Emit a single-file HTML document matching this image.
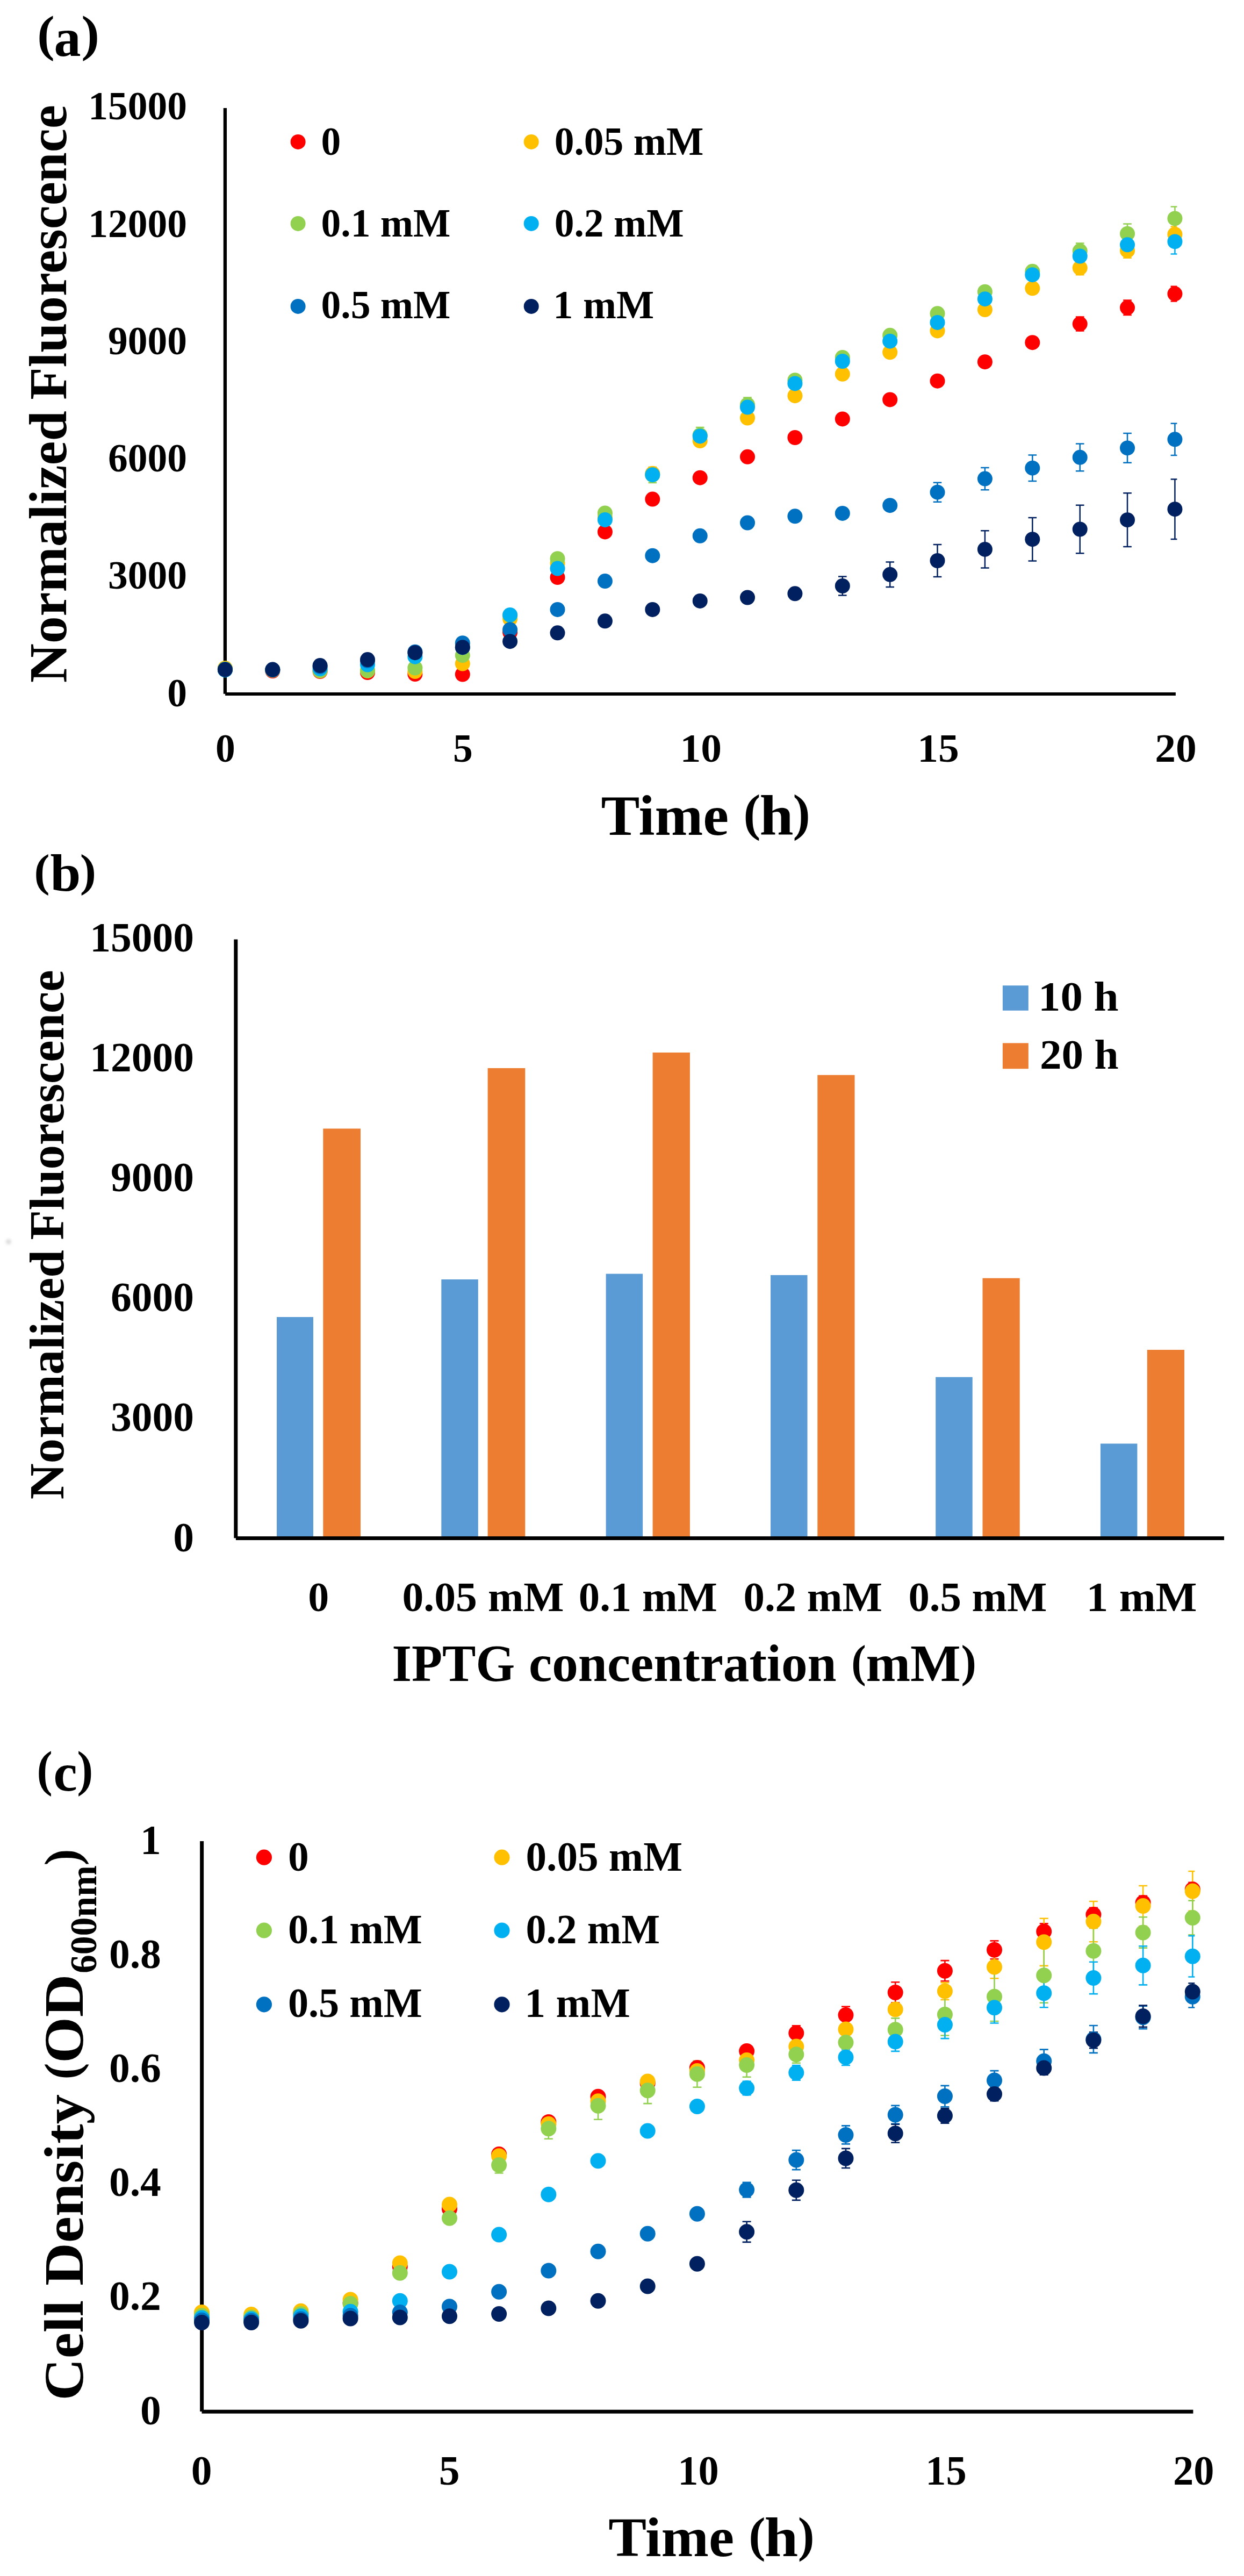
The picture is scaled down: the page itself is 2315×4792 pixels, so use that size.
<!DOCTYPE html>
<html lang="en">
<head>
<meta charset="utf-8">
<title>IPTG induction figure</title>
<style>
html,body{margin:0;padding:0;background:#fff;}
body{width:2315px;height:4792px;overflow:hidden;}
svg{display:block;}
svg text{font-family:"Liberation Serif", "DejaVu Serif", serif;font-weight:bold;fill:#000;}
</style>
</head>
<body>
<svg width="2315" height="4792" viewBox="0 0 2315 4792">
<rect width="2315" height="4792" fill="#fff"/>
<g id="panelA">
<path d="M418.9 201V1290.8" stroke="#000" stroke-width="6.3" fill="none"/><path d="M419.1 1290.9H2187.9" stroke="#000" stroke-width="6" fill="none"/>
<path d="M1832.9 666.7V679.8M1825.1 666.7h15.6M1825.1 679.8h15.6M1921.3 628.5V646.0M1913.5 628.5h15.6M1913.5 646.0h15.6M2009.7 589.5V615.6M2001.9 589.5h15.6M2001.9 615.6h15.6M2098.0 558.5V586.1M2090.2 558.5h15.6M2090.2 586.1h15.6M2186.4 532.8V560.4M2178.6 532.8h11.8M2178.6 560.4h11.8" stroke="#FF0000" stroke-width="2.5" fill="none"/>
<path d="M1921.3 527.6V545.0M1913.5 527.6h15.6M1913.5 545.0h15.6M2009.7 485.5V511.2M2001.9 485.5h15.6M2001.9 511.2h15.6M2098.0 452.6V479.7M2090.2 452.6h15.6M2090.2 479.7h15.6M2186.4 421.4V450.5M2178.6 421.4h11.8M2178.6 450.5h11.8" stroke="#FFC000" stroke-width="2.5" fill="none"/>
<path d="M1214.3 869.0V898.1M1206.5 869.0h15.6M1206.5 898.1h15.6M1302.7 794.9V824.0M1294.9 794.9h15.6M1294.9 824.0h15.6M1391.0 739.6V765.8M1383.2 739.6h15.6M1383.2 765.8h15.6M1479.4 698.5V715.9M1471.6 698.5h15.6M1471.6 715.9h15.6M1832.9 534.0V551.4M1825.1 534.0h15.6M1825.1 551.4h15.6M1921.3 493.9V515.7M1913.5 493.9h15.6M1913.5 515.7h15.6M2009.7 452.6V481.0M2001.9 452.6h15.6M2001.9 481.0h15.6M2098.0 416.6V452.7M2090.2 416.6h15.6M2090.2 452.7h15.6M2186.4 384.6V428.2M2178.6 384.6h11.8M2178.6 428.2h11.8" stroke="#92D050" stroke-width="2.5" fill="none"/>
<path d="M2009.7 465.6V487.4M2001.9 465.6h15.6M2001.9 487.4h15.6M2098.0 440.7V469.8M2090.2 440.7h15.6M2090.2 469.8h15.6M2186.4 426.3V472.6M2178.6 426.3h11.8M2178.6 472.6h11.8" stroke="#00B0F0" stroke-width="2.5" fill="none"/>
<path d="M1656.2 931.5V948.9M1648.4 931.5h15.6M1648.4 948.9h15.6M1744.5 897.7V933.8M1736.7 897.7h15.6M1736.7 933.8h15.6M1832.9 870.1V911.2M1825.1 870.1h15.6M1825.1 911.2h15.6M1921.3 846.6V894.9M1913.5 846.6h15.6M1913.5 894.9h15.6M2009.7 825.4V876.2M2001.9 825.4h15.6M2001.9 876.2h15.6M2098.0 806.1V860.8M2090.2 806.1h15.6M2090.2 860.8h15.6M2186.4 787.7V846.9M2178.6 787.7h11.8M2178.6 846.9h11.8" stroke="#0070C0" stroke-width="2.5" fill="none"/>
<path d="M1479.4 1097.1V1111.6M1471.6 1097.1h15.6M1471.6 1111.6h15.6M1567.8 1072.6V1107.5M1560.0 1072.6h15.6M1560.0 1107.5h15.6M1656.2 1045.6V1091.9M1648.4 1045.6h15.6M1648.4 1091.9h15.6M1744.5 1013.1V1072.9M1736.7 1013.1h15.6M1736.7 1072.9h15.6M1832.9 987.2V1056.6M1825.1 987.2h15.6M1825.1 1056.6h15.6M1921.3 962.9V1043.4M1913.5 962.9h15.6M1913.5 1043.4h15.6M2009.7 939.8V1029.3M2001.9 939.8h15.6M2001.9 1029.3h15.6M2098.0 917.3V1017.0M2090.2 917.3h15.6M2090.2 1017.0h15.6M2186.4 891.6V1002.9M2178.6 891.6h11.8M2178.6 1002.9h11.8" stroke="#002060" stroke-width="2.5" fill="none"/>
<g fill="#FF0000"><circle cx="418.9" cy="1244.4" r="14"/><circle cx="507.3" cy="1248.0" r="14"/><circle cx="595.6" cy="1249.1" r="14"/><circle cx="684.0" cy="1251.0" r="14"/><circle cx="772.4" cy="1254.0" r="14"/><circle cx="860.8" cy="1254.5" r="14"/><circle cx="949.1" cy="1176.3" r="14"/><circle cx="1037.5" cy="1074.1" r="14"/><circle cx="1125.9" cy="989.4" r="14"/><circle cx="1214.3" cy="928.6" r="14"/><circle cx="1302.7" cy="888.7" r="14"/><circle cx="1391.0" cy="849.8" r="14"/><circle cx="1479.4" cy="814.0" r="14"/><circle cx="1567.8" cy="779.4" r="14"/><circle cx="1656.2" cy="743.4" r="14"/><circle cx="1744.5" cy="708.7" r="14"/><circle cx="1832.9" cy="673.2" r="14"/><circle cx="1921.3" cy="637.2" r="14"/><circle cx="2009.7" cy="602.6" r="14"/><circle cx="2098.0" cy="572.3" r="14"/><circle cx="2186.4" cy="546.6" r="14"/></g>
<g fill="#FFC000"><circle cx="418.9" cy="1243.0" r="14"/><circle cx="507.3" cy="1246.5" r="14"/><circle cx="595.6" cy="1248.0" r="14"/><circle cx="684.0" cy="1248.0" r="14"/><circle cx="772.4" cy="1249.1" r="14"/><circle cx="860.8" cy="1234.6" r="14"/><circle cx="949.1" cy="1151.3" r="14"/><circle cx="1037.5" cy="1047.7" r="14"/><circle cx="1125.9" cy="962.1" r="14"/><circle cx="1214.3" cy="880.8" r="14"/><circle cx="1302.7" cy="820.0" r="14"/><circle cx="1391.0" cy="777.5" r="14"/><circle cx="1479.4" cy="736.2" r="14"/><circle cx="1567.8" cy="695.8" r="14"/><circle cx="1656.2" cy="655.3" r="14"/><circle cx="1744.5" cy="615.4" r="14"/><circle cx="1832.9" cy="576.1" r="14"/><circle cx="1921.3" cy="536.3" r="14"/><circle cx="2009.7" cy="498.3" r="14"/><circle cx="2098.0" cy="466.2" r="14"/><circle cx="2186.4" cy="436.0" r="14"/></g>
<g fill="#92D050"><circle cx="418.9" cy="1244.4" r="14"/><circle cx="507.3" cy="1246.5" r="14"/><circle cx="595.6" cy="1247.6" r="14"/><circle cx="684.0" cy="1247.6" r="14"/><circle cx="772.4" cy="1242.5" r="14"/><circle cx="860.8" cy="1219.1" r="14"/><circle cx="949.1" cy="1144.7" r="14"/><circle cx="1037.5" cy="1039.2" r="14"/><circle cx="1125.9" cy="954.5" r="14"/><circle cx="1214.3" cy="883.6" r="14"/><circle cx="1302.7" cy="809.4" r="14"/><circle cx="1391.0" cy="752.7" r="14"/><circle cx="1479.4" cy="707.2" r="14"/><circle cx="1567.8" cy="664.9" r="14"/><circle cx="1656.2" cy="623.8" r="14"/><circle cx="1744.5" cy="583.2" r="14"/><circle cx="1832.9" cy="542.7" r="14"/><circle cx="1921.3" cy="504.8" r="14"/><circle cx="2009.7" cy="466.8" r="14"/><circle cx="2098.0" cy="434.7" r="14"/><circle cx="2186.4" cy="406.4" r="14"/></g>
<g fill="#00B0F0"><circle cx="418.9" cy="1246.4" r="14"/><circle cx="507.3" cy="1246.2" r="14"/><circle cx="595.6" cy="1244.1" r="14"/><circle cx="684.0" cy="1236.6" r="14"/><circle cx="772.4" cy="1221.7" r="14"/><circle cx="860.8" cy="1204.3" r="14"/><circle cx="949.1" cy="1143.9" r="14"/><circle cx="1037.5" cy="1057.6" r="14"/><circle cx="1125.9" cy="966.9" r="14"/><circle cx="1214.3" cy="883.2" r="14"/><circle cx="1302.7" cy="811.4" r="14"/><circle cx="1391.0" cy="757.6" r="14"/><circle cx="1479.4" cy="713.4" r="14"/><circle cx="1567.8" cy="672.0" r="14"/><circle cx="1656.2" cy="634.7" r="14"/><circle cx="1744.5" cy="599.9" r="14"/><circle cx="1832.9" cy="556.2" r="14"/><circle cx="1921.3" cy="511.2" r="14"/><circle cx="2009.7" cy="476.5" r="14"/><circle cx="2098.0" cy="455.3" r="14"/><circle cx="2186.4" cy="449.4" r="14"/></g>
<g fill="#0070C0"><circle cx="418.9" cy="1245.1" r="14"/><circle cx="507.3" cy="1245.8" r="14"/><circle cx="595.6" cy="1240.0" r="14"/><circle cx="684.0" cy="1229.1" r="14"/><circle cx="772.4" cy="1212.7" r="14"/><circle cx="860.8" cy="1196.2" r="14"/><circle cx="949.1" cy="1171.3" r="14"/><circle cx="1037.5" cy="1133.9" r="14"/><circle cx="1125.9" cy="1081.1" r="14"/><circle cx="1214.3" cy="1033.7" r="14"/><circle cx="1302.7" cy="996.8" r="14"/><circle cx="1391.0" cy="972.5" r="14"/><circle cx="1479.4" cy="960.3" r="14"/><circle cx="1567.8" cy="954.9" r="14"/><circle cx="1656.2" cy="940.2" r="14"/><circle cx="1744.5" cy="915.7" r="14"/><circle cx="1832.9" cy="890.6" r="14"/><circle cx="1921.3" cy="870.7" r="14"/><circle cx="2009.7" cy="850.8" r="14"/><circle cx="2098.0" cy="833.4" r="14"/><circle cx="2186.4" cy="817.3" r="14"/></g>
<g fill="#002060"><circle cx="418.9" cy="1245.7" r="14"/><circle cx="507.3" cy="1245.6" r="14"/><circle cx="595.6" cy="1238.1" r="14"/><circle cx="684.0" cy="1227.1" r="14"/><circle cx="772.4" cy="1214.2" r="14"/><circle cx="860.8" cy="1204.2" r="14"/><circle cx="949.1" cy="1193.2" r="14"/><circle cx="1037.5" cy="1177.3" r="14"/><circle cx="1125.9" cy="1155.3" r="14"/><circle cx="1214.3" cy="1133.9" r="14"/><circle cx="1302.7" cy="1117.9" r="14"/><circle cx="1391.0" cy="1111.5" r="14"/><circle cx="1479.4" cy="1104.3" r="14"/><circle cx="1567.8" cy="1090.0" r="14"/><circle cx="1656.2" cy="1068.8" r="14"/><circle cx="1744.5" cy="1043.0" r="14"/><circle cx="1832.9" cy="1021.9" r="14"/><circle cx="1921.3" cy="1003.2" r="14"/><circle cx="2009.7" cy="984.5" r="14"/><circle cx="2098.0" cy="967.2" r="14"/><circle cx="2186.4" cy="947.2" r="14"/></g>
<text x="348" y="1313.5" font-size="73.5" text-anchor="end">0</text>
<text x="348" y="1095.3" font-size="73.5" text-anchor="end">3000</text>
<text x="348" y="877.0" font-size="73.5" text-anchor="end">6000</text>
<text x="348" y="658.8" font-size="73.5" text-anchor="end">9000</text>
<text x="348" y="440.5" font-size="73.5" text-anchor="end">12000</text>
<text x="348" y="222.3" font-size="73.5" text-anchor="end">15000</text>
<text x="419.4" y="1417" font-size="73.5" text-anchor="middle">0</text>
<text x="861.3" y="1417" font-size="73.5" text-anchor="middle">5</text>
<text x="1304.2" y="1417" font-size="73.5" text-anchor="middle" textLength="77.5" lengthAdjust="spacingAndGlyphs">10</text>
<text x="1746.0" y="1417" font-size="73.5" text-anchor="middle" textLength="77.5" lengthAdjust="spacingAndGlyphs">15</text>
<text x="2187.9" y="1417" font-size="73.5" text-anchor="middle" textLength="77.5" lengthAdjust="spacingAndGlyphs">20</text>
<text><tspan x="1118.6" y="1552.8" font-size="105" text-anchor="start" textLength="237.4" lengthAdjust="spacingAndGlyphs">Time</tspan> <tspan x="1383.6" y="1544.3" font-size="94.6" text-anchor="start" textLength="31.9" lengthAdjust="spacingAndGlyphs">(</tspan><tspan x="1413.4" y="1552.8" font-size="105" text-anchor="start" textLength="63.0" lengthAdjust="spacingAndGlyphs">h</tspan><tspan x="1475.6" y="1544.3" font-size="94.6" text-anchor="start" textLength="32.3" lengthAdjust="spacingAndGlyphs">)</tspan></text>
<text transform="rotate(-90 122.8 1270.2)"><tspan x="122.8" y="1270.2" font-size="100" textLength="506" lengthAdjust="spacingAndGlyphs">Normalized</tspan> <tspan x="649.2" y="1270.2" font-size="100" textLength="548.5" lengthAdjust="spacingAndGlyphs">Fluorescence</tspan></text>
<text><tspan x="69.2" y="94.2" font-size="92.9" text-anchor="start" textLength="32.4" lengthAdjust="spacingAndGlyphs">(</tspan><tspan x="100.6" y="103.5" font-size="100" text-anchor="start" textLength="50.0" lengthAdjust="spacingAndGlyphs">a</tspan><tspan x="151.2" y="94.2" font-size="92.9" text-anchor="start" textLength="33.8" lengthAdjust="spacingAndGlyphs">)</tspan></text>
<circle cx="554.6" cy="263.9" r="14" fill="#FF0000"/>
<text x="597.6" y="287.8" font-size="73.5" text-anchor="start">0</text>
<circle cx="988.7" cy="263.9" r="14" fill="#FFC000"/>
<text x="1031.7" y="287.8" font-size="73.5" text-anchor="start">0.05 mM</text>
<circle cx="554.6" cy="415.9" r="14" fill="#92D050"/>
<text x="597.6" y="440.2" font-size="73.5" text-anchor="start">0.1 mM</text>
<circle cx="988.7" cy="415.9" r="14" fill="#00B0F0"/>
<text x="1031.7" y="440.2" font-size="73.5" text-anchor="start">0.2 mM</text>
<circle cx="554.6" cy="569.9" r="14" fill="#0070C0"/>
<text x="597.6" y="592.2" font-size="73.5" text-anchor="start">0.5 mM</text>
<circle cx="988.7" cy="569.9" r="14" fill="#002060"/>
<text x="1029.2" y="592.2" font-size="73.5" text-anchor="start" textLength="188" lengthAdjust="spacingAndGlyphs">1 mM</text>
</g>
<g id="panelB">
<circle cx="15.9" cy="2309.9" r="5" fill="#dcdcdc" style="filter:blur(2.6px)"/>
<rect x="515" y="2450" width="68" height="411.5" fill="#5B9BD5"/>
<rect x="601.3" y="2099.5" width="69.7" height="762.0" fill="#ED7D31"/>
<rect x="821.3" y="2380" width="68.5" height="481.5" fill="#5B9BD5"/>
<rect x="907.5999999999999" y="1987" width="69.7" height="874.5" fill="#ED7D31"/>
<rect x="1127.6" y="2369.6" width="68.5" height="491.9" fill="#5B9BD5"/>
<rect x="1214.6" y="1958" width="69.3" height="903.5" fill="#ED7D31"/>
<rect x="1434" y="2372" width="68.5" height="489.5" fill="#5B9BD5"/>
<rect x="1521.3" y="1999.8" width="69.2" height="861.7" fill="#ED7D31"/>
<rect x="1741.2" y="2561.7" width="68.5" height="299.8" fill="#5B9BD5"/>
<rect x="1828.5" y="2377.7" width="69.2" height="483.8" fill="#ED7D31"/>
<rect x="2047.9" y="2685.5" width="68.5" height="176.0" fill="#5B9BD5"/>
<rect x="2134.8" y="2511" width="69.2" height="350.5" fill="#ED7D31"/>
<path d="M438.8 1747.5V2861.3" stroke="#000" stroke-width="7" fill="none"/><path d="M438.9 2861.5H2278" stroke="#000" stroke-width="7" fill="none"/>
<text x="361" y="2885.5" font-size="77.5" text-anchor="end">0</text>
<text x="361" y="2662.4" font-size="77.5" text-anchor="end">3000</text>
<text x="361" y="2439.4" font-size="77.5" text-anchor="end">6000</text>
<text x="361" y="2216.3" font-size="77.5" text-anchor="end">9000</text>
<text x="361" y="1993.3" font-size="77.5" text-anchor="end">12000</text>
<text x="361" y="1770.2" font-size="77.5" text-anchor="end">15000</text>
<text x="592.8" y="2997" font-size="78" text-anchor="middle">0</text>
<text x="899" y="2997" font-size="78" text-anchor="middle" textLength="301" lengthAdjust="spacingAndGlyphs">0.05 mM</text>
<text x="1205.8" y="2997" font-size="78" text-anchor="middle" textLength="258" lengthAdjust="spacingAndGlyphs">0.1 mM</text>
<text x="1512.7" y="2997" font-size="78" text-anchor="middle" textLength="258.5" lengthAdjust="spacingAndGlyphs">0.2 mM</text>
<text x="1819.4" y="2997" font-size="78" text-anchor="middle" textLength="258" lengthAdjust="spacingAndGlyphs">0.5 mM</text>
<text x="2124.5" y="2997" font-size="78" text-anchor="middle" textLength="206" lengthAdjust="spacingAndGlyphs">1 mM</text>
<text><tspan x="729.6" y="3126.8" font-size="97" text-anchor="start" textLength="228.6" lengthAdjust="spacingAndGlyphs">IPTG</tspan> <tspan x="984.0" y="3126.8" font-size="97" text-anchor="start" textLength="572.6" lengthAdjust="spacingAndGlyphs">concentration</tspan> <tspan x="1584.2" y="3118.7" font-size="85.5" text-anchor="start" textLength="27.4" lengthAdjust="spacingAndGlyphs">(</tspan><tspan x="1611.4" y="3126.8" font-size="97" text-anchor="start" textLength="176.4" lengthAdjust="spacingAndGlyphs">mM</tspan><tspan x="1788.4" y="3118.7" font-size="85.5" text-anchor="start" textLength="28.4" lengthAdjust="spacingAndGlyphs">)</tspan></text>
<text transform="rotate(-90 118.1 2789.2)"><tspan x="118.1" y="2789.2" font-size="92" textLength="464" lengthAdjust="spacingAndGlyphs">Normalized</tspan> <tspan x="600.7" y="2789.2" font-size="92" textLength="502" lengthAdjust="spacingAndGlyphs">Fluorescence</tspan></text>
<text><tspan x="63.6" y="1648.3" font-size="85.5" text-anchor="start" textLength="29.0" lengthAdjust="spacingAndGlyphs">(</tspan><tspan x="93.4" y="1656.5" font-size="98" text-anchor="start" textLength="56.8" lengthAdjust="spacingAndGlyphs">b</tspan><tspan x="148.8" y="1648.3" font-size="85.5" text-anchor="start" textLength="30.2" lengthAdjust="spacingAndGlyphs">)</tspan></text>
<rect x="1865.9" y="1833.3" width="47.9" height="46.6" fill="#5B9BD5"/>
<rect x="1865.9" y="1940.4" width="47.9" height="47.8" fill="#ED7D31"/>
<text x="1932" y="1879.6" font-size="78" text-anchor="start" textLength="149.5" lengthAdjust="spacingAndGlyphs">10 h</text>
<text x="1935" y="1988.2" font-size="78" text-anchor="start" textLength="146.5" lengthAdjust="spacingAndGlyphs">20 h</text>
</g>
<g id="panelC">
<path d="M375.6 3424.9V4486" stroke="#000" stroke-width="7" fill="none"/><path d="M375.5 4486.2H2220.4" stroke="#000" stroke-width="7" fill="none"/>
<path d="M1481.8 3768.2V3795.8M1473.8 3768.2h16.0M1473.8 3795.8h16.0M1574.0 3732.7V3764.5M1566.0 3732.7h16.0M1566.0 3764.5h16.0M1666.2 3687.3V3725.5M1658.2 3687.3h16.0M1658.2 3725.5h16.0M1758.4 3647.1V3685.3M1750.4 3647.1h16.0M1750.4 3685.3h16.0M1850.5 3610.4V3644.3M1842.5 3610.4h16.0M1842.5 3644.3h16.0M1942.7 3578.2V3607.9M1934.7 3578.2h16.0M1934.7 3607.9h16.0M2034.9 3548.7V3574.2M2026.9 3548.7h16.0M2026.9 3574.2h16.0M2127.1 3526.9V3552.3M2119.1 3526.9h16.0M2119.1 3552.3h16.0M2219.3 3501.9V3527.4M2211.3 3501.9h12.0M2211.3 3527.4h12.0" stroke="#FF0000" stroke-width="2.6" fill="none"/>
<path d="M1758.4 3688.1V3720.0M1750.4 3688.1h16.0M1750.4 3720.0h16.0M1850.5 3637.7V3680.2M1842.5 3637.7h16.0M1842.5 3680.2h16.0M1942.7 3568.7V3656.9M1934.7 3568.7h16.0M1934.7 3656.9h16.0M2034.9 3537.0V3612.2M2026.9 3537.0h16.0M2026.9 3612.2h16.0M2127.1 3508.0V3583.1M2119.1 3508.0h16.0M2119.1 3583.1h16.0M2219.3 3481.0V3554.9M2211.3 3481.0h12.0M2211.3 3554.9h12.0" stroke="#FFC000" stroke-width="2.6" fill="none"/>
<path d="M928.6 4012.8V4042.5M920.6 4012.8h16.0M920.6 4042.5h16.0M1020.8 3940.6V3978.8M1012.8 3940.6h16.0M1012.8 3978.8h16.0M1113.0 3891.8V3942.8M1105.0 3891.8h16.0M1105.0 3942.8h16.0M1205.2 3864.3V3913.1M1197.2 3864.3h16.0M1197.2 3913.1h16.0M1297.4 3833.9V3882.7M1289.4 3833.9h16.0M1289.4 3882.7h16.0M1389.6 3819.2V3863.7M1381.6 3819.2h16.0M1381.6 3863.7h16.0M1481.8 3805.9V3837.7M1473.8 3805.9h16.0M1473.8 3837.7h16.0M1574.0 3783.6V3815.4M1566.0 3783.6h16.0M1566.0 3815.4h16.0M1666.2 3754.4V3796.9M1658.2 3754.4h16.0M1658.2 3796.9h16.0M1758.4 3708.6V3786.5M1750.4 3708.6h16.0M1750.4 3786.5h16.0M1850.5 3668.7V3760.0M1842.5 3668.7h16.0M1842.5 3760.0h16.0M1942.7 3623.8V3725.7M1934.7 3623.8h16.0M1934.7 3725.7h16.0M2034.9 3586.9V3671.8M2026.9 3586.9h16.0M2026.9 3671.8h16.0M2127.1 3566.3V3623.6M2119.1 3566.3h16.0M2119.1 3623.6h16.0M2219.3 3535.6V3599.2M2211.3 3535.6h12.0M2211.3 3599.2h12.0" stroke="#92D050" stroke-width="2.6" fill="none"/>
<path d="M1389.6 3871.7V3897.1M1381.6 3871.7h16.0M1381.6 3897.1h16.0M1481.8 3842.0V3869.6M1473.8 3842.0h16.0M1473.8 3869.6h16.0M1574.0 3812.3V3842.0M1566.0 3812.3h16.0M1566.0 3842.0h16.0M1666.2 3780.2V3815.9M1658.2 3780.2h16.0M1658.2 3815.9h16.0M1758.4 3741.2V3792.1M1750.4 3741.2h16.0M1750.4 3792.1h16.0M1850.5 3706.2V3763.5M1842.5 3706.2h16.0M1842.5 3763.5h16.0M1942.7 3681.2V3734.3M1934.7 3681.2h16.0M1934.7 3734.3h16.0M2034.9 3649.7V3709.1M2026.9 3649.7h16.0M2026.9 3709.1h16.0M2127.1 3620.2V3692.4M2119.1 3620.2h16.0M2119.1 3692.4h16.0M2219.3 3601.1V3677.5M2211.3 3601.1h12.0M2211.3 3677.5h12.0" stroke="#00B0F0" stroke-width="2.6" fill="none"/>
<path d="M1389.6 4059.8V4087.4M1381.6 4059.8h16.0M1381.6 4087.4h16.0M1481.8 4000.1V4036.1M1473.8 4000.1h16.0M1473.8 4036.1h16.0M1574.0 3954.4V3988.4M1566.0 3954.4h16.0M1566.0 3988.4h16.0M1666.2 3916.9V3950.8M1658.2 3916.9h16.0M1658.2 3950.8h16.0M1758.4 3879.9V3919.3M1750.4 3879.9h16.0M1750.4 3919.3h16.0M1850.5 3852.1V3887.7M1842.5 3852.1h16.0M1842.5 3887.7h16.0M1942.7 3812.6V3856.1M1934.7 3812.6h16.0M1934.7 3856.1h16.0M2034.9 3768.0V3818.9M2026.9 3768.0h16.0M2026.9 3818.9h16.0M2127.1 3731.6V3774.1M2119.1 3731.6h16.0M2119.1 3774.1h16.0M2219.3 3694.2V3734.5M2211.3 3694.2h12.0M2211.3 3734.5h12.0" stroke="#0070C0" stroke-width="2.6" fill="none"/>
<path d="M1389.6 4132.7V4170.9M1381.6 4132.7h16.0M1381.6 4170.9h16.0M1481.8 4055.8V4092.9M1473.8 4055.8h16.0M1473.8 4092.9h16.0M1574.0 3996.9V4033.0M1566.0 3996.9h16.0M1566.0 4033.0h16.0M1666.2 3951.8V3985.7M1658.2 3951.8h16.0M1658.2 3985.7h16.0M1758.4 3922.0V3949.6M1750.4 3922.0h16.0M1750.4 3949.6h16.0M1850.5 3882.8V3908.3M1842.5 3882.8h16.0M1842.5 3908.3h16.0M1942.7 3834.1V3859.6M1934.7 3834.1h16.0M1934.7 3859.6h16.0M2034.9 3780.4V3810.1M2026.9 3780.4h16.0M2026.9 3810.1h16.0M2127.1 3730.6V3770.9M2119.1 3730.6h16.0M2119.1 3770.9h16.0M2219.3 3689.2V3721.0M2211.3 3689.2h12.0M2211.3 3721.0h12.0" stroke="#002060" stroke-width="2.6" fill="none"/>
<g fill="#FF0000"><circle cx="375.5" cy="4303.5" r="14.5"/><circle cx="467.7" cy="4309.9" r="14.5"/><circle cx="559.9" cy="4303.5" r="14.5"/><circle cx="652.1" cy="4284.4" r="14.5"/><circle cx="744.3" cy="4216.5" r="14.5"/><circle cx="836.5" cy="4109.3" r="14.5"/><circle cx="928.6" cy="4007.5" r="14.5"/><circle cx="1020.8" cy="3947.4" r="14.5"/><circle cx="1113.0" cy="3900.3" r="14.5"/><circle cx="1205.2" cy="3874.9" r="14.5"/><circle cx="1297.4" cy="3846.6" r="14.5"/><circle cx="1389.6" cy="3815.4" r="14.5"/><circle cx="1481.8" cy="3782.0" r="14.5"/><circle cx="1574.0" cy="3748.6" r="14.5"/><circle cx="1666.2" cy="3706.4" r="14.5"/><circle cx="1758.4" cy="3666.2" r="14.5"/><circle cx="1850.5" cy="3627.3" r="14.5"/><circle cx="1942.7" cy="3593.1" r="14.5"/><circle cx="2034.9" cy="3561.4" r="14.5"/><circle cx="2127.1" cy="3539.6" r="14.5"/><circle cx="2219.3" cy="3514.7" r="14.5"/></g>
<g fill="#FFC000"><circle cx="375.5" cy="4301.4" r="14.5"/><circle cx="467.7" cy="4305.6" r="14.5"/><circle cx="559.9" cy="4299.3" r="14.5"/><circle cx="652.1" cy="4278.0" r="14.5"/><circle cx="744.3" cy="4210.1" r="14.5"/><circle cx="836.5" cy="4100.9" r="14.5"/><circle cx="928.6" cy="4010.7" r="14.5"/><circle cx="1020.8" cy="3951.3" r="14.5"/><circle cx="1113.0" cy="3908.8" r="14.5"/><circle cx="1205.2" cy="3872.1" r="14.5"/><circle cx="1297.4" cy="3852.6" r="14.5"/><circle cx="1389.6" cy="3832.4" r="14.5"/><circle cx="1481.8" cy="3807.0" r="14.5"/><circle cx="1574.0" cy="3775.1" r="14.5"/><circle cx="1666.2" cy="3738.0" r="14.5"/><circle cx="1758.4" cy="3704.0" r="14.5"/><circle cx="1850.5" cy="3659.0" r="14.5"/><circle cx="1942.7" cy="3612.8" r="14.5"/><circle cx="2034.9" cy="3574.6" r="14.5"/><circle cx="2127.1" cy="3545.5" r="14.5"/><circle cx="2219.3" cy="3517.9" r="14.5"/></g>
<g fill="#92D050"><circle cx="375.5" cy="4307.8" r="14.5"/><circle cx="467.7" cy="4310.9" r="14.5"/><circle cx="559.9" cy="4304.6" r="14.5"/><circle cx="652.1" cy="4285.5" r="14.5"/><circle cx="744.3" cy="4228.2" r="14.5"/><circle cx="836.5" cy="4126.3" r="14.5"/><circle cx="928.6" cy="4027.6" r="14.5"/><circle cx="1020.8" cy="3959.7" r="14.5"/><circle cx="1113.0" cy="3917.3" r="14.5"/><circle cx="1205.2" cy="3888.7" r="14.5"/><circle cx="1297.4" cy="3858.3" r="14.5"/><circle cx="1389.6" cy="3841.4" r="14.5"/><circle cx="1481.8" cy="3821.8" r="14.5"/><circle cx="1574.0" cy="3799.5" r="14.5"/><circle cx="1666.2" cy="3775.7" r="14.5"/><circle cx="1758.4" cy="3747.5" r="14.5"/><circle cx="1850.5" cy="3714.3" r="14.5"/><circle cx="1942.7" cy="3674.8" r="14.5"/><circle cx="2034.9" cy="3629.3" r="14.5"/><circle cx="2127.1" cy="3595.0" r="14.5"/><circle cx="2219.3" cy="3567.4" r="14.5"/></g>
<g fill="#00B0F0"><circle cx="375.5" cy="4312.0" r="14.5"/><circle cx="467.7" cy="4314.1" r="14.5"/><circle cx="559.9" cy="4308.8" r="14.5"/><circle cx="652.1" cy="4300.3" r="14.5"/><circle cx="744.3" cy="4280.2" r="14.5"/><circle cx="836.5" cy="4226.1" r="14.5"/><circle cx="928.6" cy="4157.1" r="14.5"/><circle cx="1020.8" cy="4082.2" r="14.5"/><circle cx="1113.0" cy="4019.7" r="14.5"/><circle cx="1205.2" cy="3964.0" r="14.5"/><circle cx="1297.4" cy="3918.4" r="14.5"/><circle cx="1389.6" cy="3884.4" r="14.5"/><circle cx="1481.8" cy="3855.8" r="14.5"/><circle cx="1574.0" cy="3827.1" r="14.5"/><circle cx="1666.2" cy="3798.0" r="14.5"/><circle cx="1758.4" cy="3766.6" r="14.5"/><circle cx="1850.5" cy="3734.8" r="14.5"/><circle cx="1942.7" cy="3707.8" r="14.5"/><circle cx="2034.9" cy="3679.4" r="14.5"/><circle cx="2127.1" cy="3656.3" r="14.5"/><circle cx="2219.3" cy="3639.3" r="14.5"/></g>
<g fill="#0070C0"><circle cx="375.5" cy="4316.2" r="14.5"/><circle cx="467.7" cy="4317.3" r="14.5"/><circle cx="559.9" cy="4314.1" r="14.5"/><circle cx="652.1" cy="4307.8" r="14.5"/><circle cx="744.3" cy="4301.4" r="14.5"/><circle cx="836.5" cy="4290.8" r="14.5"/><circle cx="928.6" cy="4263.2" r="14.5"/><circle cx="1020.8" cy="4223.9" r="14.5"/><circle cx="1113.0" cy="4188.2" r="14.5"/><circle cx="1205.2" cy="4155.2" r="14.5"/><circle cx="1297.4" cy="4118.2" r="14.5"/><circle cx="1389.6" cy="4073.6" r="14.5"/><circle cx="1481.8" cy="4018.1" r="14.5"/><circle cx="1574.0" cy="3971.4" r="14.5"/><circle cx="1666.2" cy="3933.9" r="14.5"/><circle cx="1758.4" cy="3899.6" r="14.5"/><circle cx="1850.5" cy="3869.9" r="14.5"/><circle cx="1942.7" cy="3834.3" r="14.5"/><circle cx="2034.9" cy="3793.5" r="14.5"/><circle cx="2127.1" cy="3752.8" r="14.5"/><circle cx="2219.3" cy="3714.3" r="14.5"/></g>
<g fill="#002060"><circle cx="375.5" cy="4320.5" r="14.5"/><circle cx="467.7" cy="4320.5" r="14.5"/><circle cx="559.9" cy="4317.3" r="14.5"/><circle cx="652.1" cy="4313.1" r="14.5"/><circle cx="744.3" cy="4310.9" r="14.5"/><circle cx="836.5" cy="4308.8" r="14.5"/><circle cx="928.6" cy="4304.6" r="14.5"/><circle cx="1020.8" cy="4294.0" r="14.5"/><circle cx="1113.0" cy="4280.2" r="14.5"/><circle cx="1205.2" cy="4253.0" r="14.5"/><circle cx="1297.4" cy="4211.3" r="14.5"/><circle cx="1389.6" cy="4151.8" r="14.5"/><circle cx="1481.8" cy="4074.3" r="14.5"/><circle cx="1574.0" cy="4014.9" r="14.5"/><circle cx="1666.2" cy="3968.8" r="14.5"/><circle cx="1758.4" cy="3935.8" r="14.5"/><circle cx="1850.5" cy="3895.6" r="14.5"/><circle cx="1942.7" cy="3846.9" r="14.5"/><circle cx="2034.9" cy="3795.3" r="14.5"/><circle cx="2127.1" cy="3750.7" r="14.5"/><circle cx="2219.3" cy="3705.1" r="14.5"/></g>
<text x="299.8" y="4509.6" font-size="77.5" text-anchor="end">0</text>
<text x="299.8" y="4297.4" font-size="77.5" text-anchor="end">0.2</text>
<text x="299.8" y="4085.2" font-size="77.5" text-anchor="end">0.4</text>
<text x="299.8" y="3873.0" font-size="77.5" text-anchor="end">0.6</text>
<text x="299.8" y="3660.8" font-size="77.5" text-anchor="end">0.8</text>
<text x="299.8" y="3448.6" font-size="77.5" text-anchor="end">1</text>
<text x="375.0" y="4622" font-size="77.5" text-anchor="middle">0</text>
<text x="836.0" y="4622" font-size="77.5" text-anchor="middle">5</text>
<text x="1299.4" y="4622" font-size="77.5" text-anchor="middle" textLength="76.5" lengthAdjust="spacingAndGlyphs">10</text>
<text x="1760.4" y="4622" font-size="77.5" text-anchor="middle" textLength="76.5" lengthAdjust="spacingAndGlyphs">15</text>
<text x="2221.3" y="4622" font-size="77.5" text-anchor="middle" textLength="76.5" lengthAdjust="spacingAndGlyphs">20</text>
<text><tspan x="1132.2" y="4754.5" font-size="103" text-anchor="start" textLength="233.8" lengthAdjust="spacingAndGlyphs">Time</tspan> <tspan x="1393.2" y="4746.3" font-size="91.1" text-anchor="start" textLength="31.3" lengthAdjust="spacingAndGlyphs">(</tspan><tspan x="1422.4" y="4754.5" font-size="103" text-anchor="start" textLength="62.8" lengthAdjust="spacingAndGlyphs">h</tspan><tspan x="1484.8" y="4746.3" font-size="91.1" text-anchor="start" textLength="30.8" lengthAdjust="spacingAndGlyphs">)</tspan></text>
<text transform="rotate(-90 154 4465.5)"><tspan x="154.0" y="4465.5" font-size="104" textLength="186.5" lengthAdjust="spacingAndGlyphs">Cell</tspan> <tspan x="367.5" y="4465.5" font-size="104" textLength="356" lengthAdjust="spacingAndGlyphs">Density</tspan> <tspan x="751.0" y="4457.5" font-size="92" textLength="31" lengthAdjust="spacingAndGlyphs">(</tspan><tspan x="781.5" y="4465.5" font-size="104" textLength="165.5" lengthAdjust="spacingAndGlyphs">OD</tspan><tspan x="948.5" y="4490.5" font-size="70" textLength="201" lengthAdjust="spacingAndGlyphs">600nm</tspan><tspan x="1149.0" y="4457.5" font-size="92" textLength="31" lengthAdjust="spacingAndGlyphs">)</tspan></text>
<text><tspan x="68.4" y="3322" font-size="92.2" text-anchor="start" textLength="29.2" lengthAdjust="spacingAndGlyphs">(</tspan><tspan x="99.4" y="3331" font-size="100" text-anchor="start" textLength="44.2" lengthAdjust="spacingAndGlyphs">c</tspan><tspan x="143.2" y="3322" font-size="92.2" text-anchor="start" textLength="30.0" lengthAdjust="spacingAndGlyphs">)</tspan></text>
<circle cx="491.4" cy="3455.2" r="14.6" fill="#FF0000"/>
<text x="535.9" y="3480.2" font-size="77.5" text-anchor="start">0</text>
<circle cx="934" cy="3455.2" r="14.6" fill="#FFC000"/>
<text x="978.5" y="3480.2" font-size="77.5" text-anchor="start" textLength="291.5" lengthAdjust="spacingAndGlyphs">0.05 mM</text>
<circle cx="491.4" cy="3591" r="14.6" fill="#92D050"/>
<text x="535.9" y="3615" font-size="77.5" text-anchor="start" textLength="250" lengthAdjust="spacingAndGlyphs">0.1 mM</text>
<circle cx="934" cy="3591" r="14.6" fill="#00B0F0"/>
<text x="978.5" y="3615" font-size="77.5" text-anchor="start" textLength="249.5" lengthAdjust="spacingAndGlyphs">0.2 mM</text>
<circle cx="491.4" cy="3728.8" r="14.6" fill="#0070C0"/>
<text x="535.9" y="3752.3" font-size="77.5" text-anchor="start" textLength="250" lengthAdjust="spacingAndGlyphs">0.5 mM</text>
<circle cx="934" cy="3728.8" r="14.6" fill="#002060"/>
<text x="976.3" y="3752.3" font-size="77.5" text-anchor="start" textLength="196.5" lengthAdjust="spacingAndGlyphs">1 mM</text>
</g>
</svg>
</body>
</html>
